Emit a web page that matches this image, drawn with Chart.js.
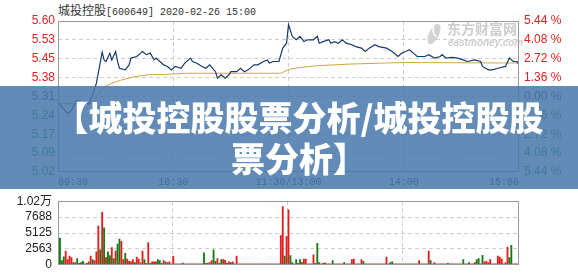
<!DOCTYPE html>
<html>
<head>
<meta charset="utf-8">
<script src="https://cdn.jsdelivr.net/npm/chart.js@4.4.0/dist/chart.umd.min.js"></script>
<style>
body { margin: 0; background: #fff; width: 578px; height: 276px; overflow: hidden; position: relative; }
#title { position: absolute; left: 58px; top: 1px; color: #333; white-space: nowrap; line-height: 14px; }
#title .cn { font: 12px "Noto Sans CJK SC", sans-serif; }
#title .en { font: 10px "Liberation Mono", monospace; }
#priceCanvas { position: absolute; left: 0; top: 0; }
#volCanvas { position: absolute; left: 0; top: 188px; }
#banner { position: absolute; left: 0; top: 86px; width: 578px; height: 103px; background: rgba(70, 120, 170, 0.85); }
#banner div { position: absolute; left: 20px; right: 0; top: 10px; text-align: center; color: #fff;
  font: 900 34px/41px "Noto Sans CJK SC", sans-serif; white-space: nowrap; }
</style>
</head>
<body>
<div id="title"><span class="cn">城投控股</span><span class="en">[600649] 2020-02-26 15:00</span></div>
<canvas id="priceCanvas" width="578" height="190"></canvas>
<canvas id="volCanvas" width="578" height="90"></canvas>
<div id="banner"><div>【城投控股股票分析/城投控股股<br>票分析】</div></div>

<script>
// Data
const prevClose = 5.31;
const pctSteps = [-5.44, -4.08, -2.72, -1.36, 0, 1.36, 2.72, 4.08, 5.44];
const priceLabels = ['5.02', '5.09', '5.17', '5.24', '5.31', '5.38', '5.45', '5.53', '5.60'];
const pctLabels = ['5.44 %', '4.08 %', '2.72 %', '1.36 %', '0.00 %', '1.36 %', '2.72 %', '4.08 %', '5.44 %'];
const timeTicks = [0, 60, 120, 180, 240];
const timeLabels = ['09:30', '10:30', '11:30/13:00', '14:00', '15:00'];

// minutes since 09:30 (trading minutes) and price
const priceMin = [0, 5, 7, 10, 12, 14, 16, 18, 20, 23, 24, 25, 27, 28, 30, 31, 32, 35, 37, 38,
  41, 43, 44, 46, 48, 50, 51, 53, 55, 57, 59, 61, 64, 66, 69, 70, 72, 75, 77, 79,
  82, 83, 85, 87, 89, 90, 93, 95, 97, 99, 102, 104, 107, 109, 110, 112, 115, 117, 119, 120,
  122, 124, 126, 128, 130, 133, 135, 136, 138, 141, 142, 144, 146, 148, 150, 153, 155, 158, 160, 162,
  165, 167, 171, 174, 177, 179, 181, 183, 185, 187, 191, 193, 196, 199, 200, 202, 205, 208, 211, 213,
  217, 220, 221, 224, 226, 229, 233, 235, 237, 239, 240];
const priceVal = [5.288, 5.245, 5.258, 5.297, 5.284, 5.29, 5.281, 5.316, 5.361, 5.48, 5.45, 5.444, 5.476, 5.45, 5.482, 5.444, 5.418, 5.412, 5.431, 5.457,
  5.463, 5.476, 5.482, 5.47, 5.476, 5.45, 5.457, 5.444, 5.431, 5.425, 5.412, 5.425, 5.418, 5.438, 5.457, 5.444, 5.438, 5.425, 5.418, 5.431,
  5.405, 5.38, 5.393, 5.38, 5.393, 5.405, 5.405, 5.418, 5.405, 5.412, 5.431, 5.431, 5.444, 5.45, 5.438, 5.444, 5.444, 5.495, 5.514, 5.585,
  5.54, 5.527, 5.54, 5.52, 5.527, 5.527, 5.54, 5.514, 5.52, 5.527, 5.514, 5.52, 5.514, 5.527, 5.514, 5.508, 5.501, 5.495, 5.482, 5.495,
  5.508, 5.501, 5.495, 5.482, 5.463, 5.476, 5.482, 5.489, 5.476, 5.463, 5.463, 5.47, 5.457, 5.463, 5.47, 5.457, 5.46, 5.457, 5.45, 5.444,
  5.45, 5.444, 5.425, 5.412, 5.412, 5.418, 5.425, 5.457, 5.444, 5.444, 5.431];

const avgMin = [0, 10, 18, 21, 24, 28, 33, 40, 47, 56, 67, 116, 119, 121, 125, 135, 152, 170, 181, 240];
const avgVal = [5.285, 5.28, 5.285, 5.316, 5.345, 5.361, 5.373, 5.386, 5.393, 5.395, 5.399, 5.399, 5.41, 5.415, 5.42, 5.428, 5.434, 5.438, 5.44, 5.438];

// volume per minute (shares), with up (r) / down (g) flag
const volumes = [
  140, 4300, 700, 1300, 2200, 830, 1390, 1150, 370, 370,
  1000, 230, 370, 550, 140, 230, 460, 1390, 830, 700,
  2080, 6240, 2400, 8450, 5960, 1150, 2080, 1500, 2770, 1000,
  2200, 3330, 4160, 3800, 830, 1850, 920, 550, 460, 830,
  370, 1250, 920, 300, 2200, 830, 230, 3600, 230, 460,
  460, 460, 830, 700, 230, 700, 460, 370, 460, 140,
  1390, 140, 140, 140, 140, 280, 140, 140, 140, 140,
  140, 140, 140, 140, 140, 140, 1940, 230, 280, 370,
  700, 2400, 550, 1000, 230, 830, 830, 740, 230, 460,
  370, 460, 140, 1390, 140, 140, 140, 140, 140, 140,
  140, 140, 140, 140, 140, 140, 140, 140, 140, 140,
  140, 140, 140, 140, 140, 140, 4700, 9400, 1390, 4600,
  8870, 1480, 370, 140, 830, 230, 830, 370, 920, 920,
  140, 140, 140, 1620, 230, 3470, 370, 140, 230, 320,
  140, 140, 140, 700, 140, 140, 140, 140, 140, 370,
  140, 140, 140, 830, 920, 140, 140, 140, 830, 550,
  140, 140, 140, 140, 140, 140, 140, 140, 140, 140,
  140, 1250, 140, 370, 460, 140, 140, 140, 140, 140,
  140, 140, 140, 140, 140, 140, 140, 140, 700, 140,
  140, 140, 140, 2200, 700, 140, 370, 140, 140, 140,
  140, 140, 140, 230, 140, 140, 140, 140, 140, 140,
  140, 830, 140, 140, 370, 140, 140, 370, 830, 1020,
  140, 1530, 460, 550, 370, 830, 140, 140, 140, 1390,
  1250, 920, 140, 370, 2860, 1150, 3140, 140, 140, 140,
  1760
];
const volUpDown = [
  'rgggrrrrgr', 'grggrrrrgr', 'rrgrgrggrg', 'rggrrgrrrr', 'grrrrggrgr',
  'rrggrrgrrr', 'rrgrrrrgrr', 'rrrgrrgrrr', 'rggrggrrrr', 'grrrrrrrrr',
  'rrrrgrrrrr', 'rrrrrrrrgr', 'rggrgrgrrr', 'rrrrrggrrr', 'rrrgrrrrrg',
  'rrrrrrrrrg', 'rrrrrrrrrr', 'rrrggrrrrr', 'rrrrrrrrrr', 'rrrrgrrrrr',
  'rrrgrrrrrr', 'rgrrgrrrgg', 'rgrrrrrrrr', 'rrrrrggrrr', 'g'
].join('');
const volTicks = [0, 2563, 5125, 7688, 10250];
const volLabels = ['0', '2563', '5125', '7688', '1.02万'];

const RED = '#e41e1e';
const GREEN = '#167a16';
const GRID = '#cfcfcf';
const FRAME = '#999';

Chart.defaults.font.family = '"Liberation Sans", "Noto Sans CJK SC", sans-serif';
Chart.defaults.font.size = 12;

// Draws the gray box around the plot
const framePlugin = {
    id: 'frame',
    afterDraw(chart) {
        const a = chart.chartArea;
        const ctx = chart.ctx;
        ctx.save();
        ctx.strokeStyle = FRAME;
        ctx.lineWidth = 1;
        ctx.strokeRect(Math.round(a.left) + 0.5, Math.round(a.top) + 0.5,
            Math.round(a.right - a.left) - 1, Math.round(a.bottom - a.top) - 1);
        ctx.restore();
    }
};

// eastmoney watermark
const watermarkPlugin = {
    id: 'watermark',
    beforeDatasetsDraw(chart) {
        const ctx = chart.ctx;
        ctx.save();
        ctx.fillStyle = '#d3d3d3';
        ctx.beginPath();
        ctx.ellipse(434, 34, 5, 11, 0.45, 0, Math.PI * 2);
        ctx.fill();
        ctx.strokeStyle = '#fff';
        ctx.lineWidth = 1.5;
        ctx.beginPath();
        ctx.arc(441, 30, 8, Math.PI * 0.7, Math.PI * 1.15);
        ctx.stroke();
        ctx.fillStyle = '#cdcdcd';
        ctx.textBaseline = 'top';
        ctx.font = '700 14px "Noto Sans CJK SC"';
        ctx.fillText('东方财富网', 447, 22);
        ctx.font = 'italic 700 10px "Liberation Sans"';
        ctx.fillText('eastmoney.com', 448, 38);
        ctx.restore();
    }
};

const priceTickVals = pctSteps.map(p => prevClose * (1 + p / 100));
const yMin = priceTickVals[0];
const yMax = priceTickVals[priceTickVals.length - 1];

function labelColor(i) {
    if (i < 4) return GREEN;
    if (i === 4) return '#333';
    return RED;
}

new Chart(document.getElementById('priceCanvas'), {
    type: 'line',
    data: {
        datasets: [
            {
                data: priceMin.map((m, i) => ({ x: m, y: priceVal[i] })),
                borderColor: '#173a6e',
                borderWidth: 1.2,
                pointRadius: 0,
                tension: 0
            },
            {
                data: avgMin.map((m, i) => ({ x: m, y: avgVal[i] })),
                borderColor: '#d0a640',
                borderWidth: 1,
                pointRadius: 0,
                tension: 0
            }
        ]
    },
    options: {
        responsive: false,
        animation: false,
        events: [],
        layout: { padding: { top: 21, left: 0, right: 0, bottom: 0 } },
        plugins: { legend: { display: false }, tooltip: { enabled: false } },
        scales: {
            x: {
                type: 'linear',
                min: 0,
                max: 240,
                afterBuildTicks: s => { s.ticks = timeTicks.map(v => ({ value: v })); },
                afterFit: s => { s.height = 18; },
                ticks: {
                    align: 'inner',
                    autoSkip: false,
                    maxRotation: 0,
                    padding: 4,
                    color: '#222',
                    font: { family: '"Liberation Mono", monospace', size: 10 },
                    callback: (v, i) => timeLabels[i]
                },
                grid: {
                    drawTicks: false,
                    color: c => (c.index === 0 || c.index === timeTicks.length - 1) ? 'rgba(0,0,0,0)' : GRID
                },
                border: { display: false, dash: [4, 3] }
            },
            y: {
                position: 'left',
                min: yMin,
                max: yMax,
                afterBuildTicks: s => { s.ticks = priceTickVals.map(v => ({ value: v })); },
                afterFit: s => { s.width = 58; },
                ticks: {
                    padding: 3,
                    color: c => labelColor(c.index),
                    callback: (v, i) => priceLabels[i]
                },
                grid: {
                    drawTicks: false,
                    color: c => (c.index === 0 || c.index === priceTickVals.length - 1) ? 'rgba(0,0,0,0)' : GRID
                },
                border: { display: false, dash: [4, 3] }
            },
            y2: {
                position: 'right',
                min: yMin,
                max: yMax,
                afterBuildTicks: s => { s.ticks = priceTickVals.map(v => ({ value: v })); },
                afterFit: s => { s.width = 59; },
                ticks: {
                    padding: 5,
                    color: c => labelColor(c.index),
                    callback: (v, i) => pctLabels[i]
                },
                grid: { display: false, drawTicks: false },
                border: { display: false }
            }
        }
    },
    plugins: [watermarkPlugin, framePlugin]
});

new Chart(document.getElementById('volCanvas'), {
    type: 'bar',
    data: {
        labels: volumes.map((v, i) => i),
        datasets: [{
            data: volumes,
            backgroundColor: volumes.map((v, i) => volUpDown[i] === 'g' ? GREEN : RED),
            barThickness: 1.2,
            borderWidth: 0
        }]
    },
    options: {
        responsive: false,
        animation: false,
        events: [],
        layout: { padding: { top: 8, left: 0, right: 59, bottom: 8 } },
        plugins: { legend: { display: false }, tooltip: { enabled: false } },
        scales: {
            x: {
                offset: false,
                afterFit: s => { s.height = 0; },
                ticks: { display: false, autoSkip: false },
                grid: {
                    drawTicks: false,
                    color: c => timeTicks.slice(1, -1).includes(c.index) ? GRID : 'rgba(0,0,0,0)'
                },
                border: { display: false, dash: [4, 3] }
            },
            y: {
                position: 'left',
                min: 0,
                max: volTicks[volTicks.length - 1],
                afterBuildTicks: s => { s.ticks = volTicks.map(v => ({ value: v })); },
                afterFit: s => { s.width = 58; },
                ticks: {
                    padding: 6,
                    color: '#222',
                    callback: (v, i) => volLabels[i]
                },
                grid: {
                    drawTicks: false,
                    color: c => (c.index === 0 || c.index === volTicks.length - 1) ? 'rgba(0,0,0,0)' : GRID
                },
                border: { display: false, dash: [4, 3] }
            }
        }
    },
    plugins: [framePlugin]
});
</script>
</body>
</html>
